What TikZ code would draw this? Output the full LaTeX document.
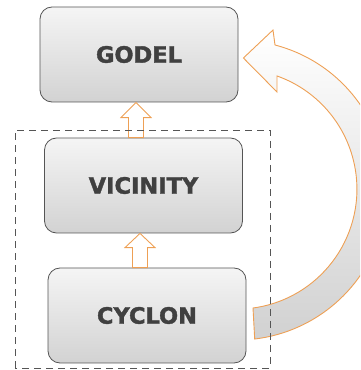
\documentclass[tikz,border=0pt]{standalone}
\usepackage{fontspec}
\newfontfamily\boxfont[BoldFeatures={FakeBold=1.6}]{DejaVu Sans}
\usetikzlibrary{calc}
\definecolor{edge}{RGB}{85,85,85}
\definecolor{txt}{RGB}{64,64,64}
\definecolor{orng}{RGB}{238,160,85}

\begin{document}
\begin{tikzpicture}[x=1pt, y=1pt,
  b/.style={rectangle, rounded corners=12pt, draw=edge, line width=.8pt, top color=gray!8, bottom color=gray!35, minimum width=198pt, minimum height=95pt, inner sep=0pt, text=txt, font=\boxfont\bfseries\fontsize{22.5}{22.5}\selectfont},
  h/.style={draw=orng, line width=.9pt, fill=white},
  dbox/.style={draw=edge, line width=.9pt, dash pattern=on 7pt off 5pt}]
		\useasboundingbox (0,0) rectangle (360,370);
		\clip (0,0) rectangle (360,370);

		\node[b] (godel) at (139,315.5) {GODEL};
		\node[b] (vicinity) at (143.5,184.5) {VICINITY};
		\node[b] (cyclon) at (147,54.5) {CYCLON};

		% small hollow arrows between the layers
		\foreach \lo/\hi/\x in {vicinity/godel/136, cyclon/vicinity/140} {
			\coordinate (a) at (\x,0);
			\draw[h] ($(a |- \lo.north)+(-7.5,0)$) -- ++(0,20) -- ++(-7.5,0) -- (a |- \hi.south)
				-- ($(a |- \lo.north)+(15,20)$) -- ++(-7.5,0) -- ++(0,-20) -- cycle;
		}

		% big curved arrow from CYCLON back to GODEL
		\coordinate (tip) at ($(godel.east)+(5,-3.5)$);
		\draw[draw=orng, line width=.9pt, top color=white, bottom color=gray!36]
			(tip) -- (273,340) -- (275,325) arc[start angle=75.3, end angle=-83.2, radius=150]
			-- (253,62) arc[start angle=-82.3, end angle=70.5, radius=120] -- (277,278) -- cycle;

		\draw[dbox] (15,2) rectangle (270,240);
	\end{tikzpicture}
\end{document}
